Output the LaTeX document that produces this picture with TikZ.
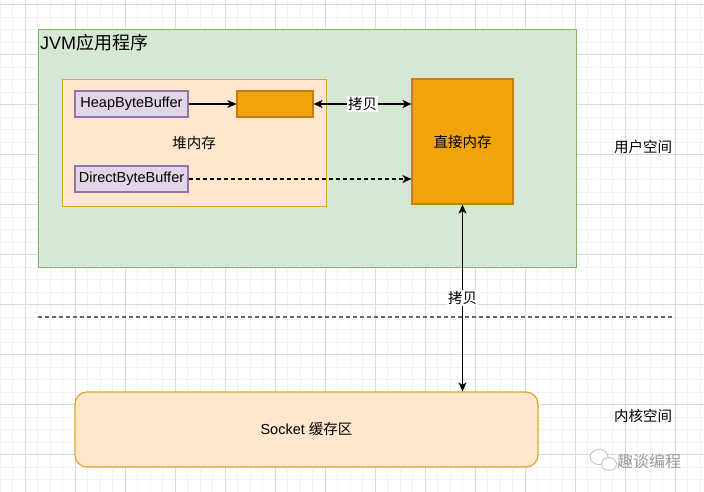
\documentclass[tikz,border=0pt]{standalone}
\usepackage{fontspec}
\setmainfont{Liberation Sans}
\newfontfamily\cjk{Noto Sans CJK SC}
\usetikzlibrary{arrows.meta}
\definecolor{jvmfill}{RGB}{213,232,212}
\definecolor{jvmline}{RGB}{130,179,102}
\definecolor{heapfill}{RGB}{255,230,204}
\definecolor{heapline}{RGB}{222,165,45}
\definecolor{buffill}{RGB}{225,213,231}
\definecolor{bufline}{RGB}{150,115,166}
\definecolor{memfill}{RGB}{240,163,10}
\definecolor{memline}{RGB}{200,125,10}
\definecolor{gridminor}{RGB}{242,242,242}
\definecolor{gridmajor}{RGB}{218,218,218}
\newcommand\bodyfont{\fontsize{14.5}{17}\selectfont}
\newcommand\titlefont{\fontsize{18}{21}\selectfont}

\begin{document}
\begin{tikzpicture}[x=1pt,y=-1pt,
  box/.style={draw, line width=1.2pt, inner sep=0pt, font=\bodyfont},
  buf/.style={box, fill=buffill, draw=bufline, minimum width=113pt, minimum height=26pt},
  mem/.style={box, fill=memfill, draw=memline},
  tag/.style={font=\cjk\bodyfont, inner sep=1pt},
  copylabel/.style={tag, fill=white},
  tip/.style={line width=1.1pt, >={Stealth[length=9pt,width=8pt,inset=2.5pt]}}]

\useasboundingbox (0,0) rectangle (704,492);

%---------------------------------------
% Background grid
%---------------------------------------
\begin{scope}
  \clip (0,0) rectangle (704,492);
  \foreach \gx in {0,12.5,...,704} \draw[gridminor, line width=0.8pt] (\gx,0) -- (\gx,492);
  \foreach \gy in {4.5,17,...,492} \draw[gridminor, line width=0.8pt] (0,\gy) -- (704,\gy);
  \foreach \gx in {25,75,...,675} \draw[gridmajor, line width=0.8pt] (\gx,0) -- (\gx,492);
  \foreach \gy in {4.5,54.5,...,454.5} \draw[gridmajor, line width=0.8pt] (0,\gy) -- (704,\gy);
\end{scope}

%====================================================
% User space: JVM application
%====================================================
\node[box, draw=jvmline, fill=jvmfill, minimum width=538pt, minimum height=238pt,
      anchor=north west] (jvm) at (38,29) {};
\node[anchor=west, inner sep=0pt, font=\titlefont] (jvmtitle) at (40,43) {JVM{\cjk 应用程序}};

% Heap memory
\node[box, draw=heapline, fill=heapfill, minimum width=264pt, minimum height=127pt,
      anchor=north west] (heap) at (62,79) {};
\node[tag] (heaptag) at (194,143) {堆内存};

\node[buf] (hbb) at (131.5,104) {HeapByteBuffer};
\node[buf] (dbb) at (131.5,179) {DirectByteBuffer};
\node[mem, minimum width=76pt, minimum height=26pt] (blk) at (275,104) {};

% Direct memory
\node[mem, minimum width=101pt, minimum height=125pt, font=\cjk\bodyfont] (direct) at (462.5,141.5) {直接内存};

% Arrows
\draw[tip, ->] (hbb) -- (blk);
\draw[tip, <->] (blk.east) -- (blk.east -| direct.west)
    node[copylabel, midway] (copya) {拷贝};
\draw[tip, ->, dash pattern=on 4pt off 3pt] (dbb.east) -- (dbb.east -| direct.west);

%====================================================
% Kernel space
%====================================================
\draw[line width=1.5pt, black!60, dash pattern=on 4pt off 3pt] (38,317) -- (672,317);

\node[box, draw=heapline, fill=heapfill, rounded corners=12pt, minimum width=463pt,
      minimum height=75pt] (sock) at (306.5,429.5) {Socket {\cjk 缓存区}};

\draw[tip, <->] (direct.south) -- (direct.south |- sock.north)
    node[copylabel, midway] (copyb) {拷贝};

% Space labels
\node[tag] (userspace) at (643,147) {用户空间};
\node[tag] (kernelspace) at (643,416) {内核空间};

% Watermark
\begin{scope}[black!25, line width=0.8pt]
  \draw[fill=white] (599,457) ellipse (9pt and 7.5pt);
  \draw[fill=white] (609,464) ellipse (7.5pt and 6.5pt);
\end{scope}
\node[tag, text=black!40, font=\cjk\fontsize{16}{18}\selectfont] (mark) at (649,461) {趣谈编程};

\end{tikzpicture}
\end{document}
